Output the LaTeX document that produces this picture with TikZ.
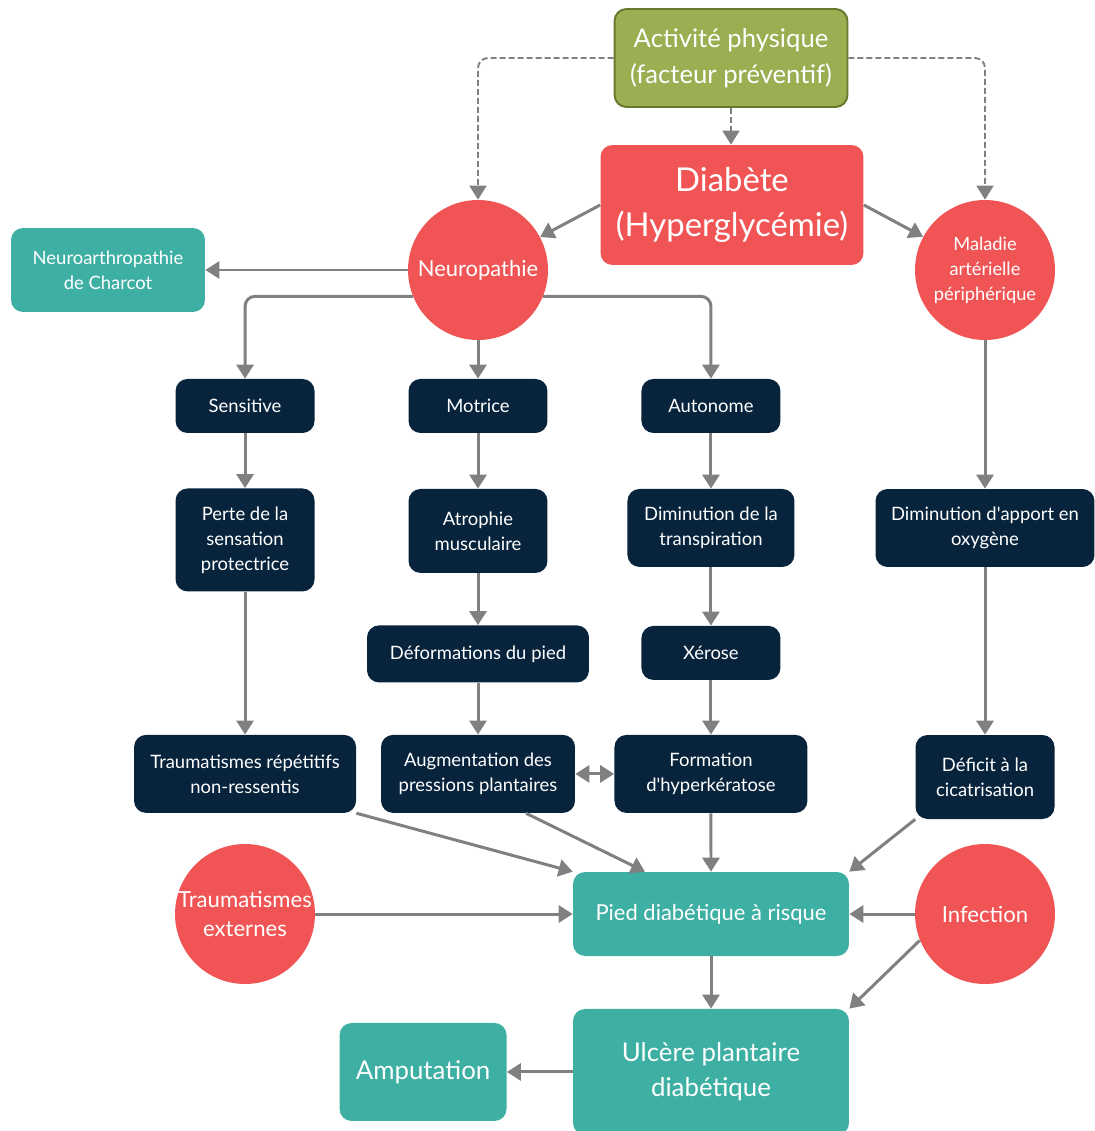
\documentclass[tikz,border=0pt]{standalone}
\usepackage{fontspec}
\setmainfont{Lato}
\usetikzlibrary{arrows.meta,positioning}

\definecolor{rouge}{HTML}{F05454}
\definecolor{vert}{HTML}{9BAE52}
\definecolor{vertfonce}{HTML}{66792C}
\definecolor{sarcelle}{HTML}{3DAFA3}
\definecolor{marine}{HTML}{07243C}
\definecolor{gris}{HTML}{808080}

\begin{document}
\begin{tikzpicture}[x=0.02cm, y=-0.02cm, node distance=2.5cm,
		every node/.style={text=white, align=center, inner sep=0pt},
		boite/.style={rounded corners=0.24cm, font=\fontsize{10.5}{14.2}\selectfont},
		sombre/.style={boite, fill=marine, minimum width=2.78cm, minimum height=1.08cm},
		turquoise/.style={boite, fill=sarcelle},
		rond/.style={circle, fill=rouge, minimum size=2.8cm},
		fleche/.style={draw=gris, line width=1.7pt, -{Triangle[width=0.34cm, length=0.28cm]}},
		pointille/.style={draw=gris, line width=1.1pt, dash pattern=on 0.12cm off 0.06cm, rounded corners=0.2cm, -{Triangle[width=0.34cm, length=0.28cm]}}]
		\useasboundingbox (0,0) rectangle (1094,1131);
		
		\node[boite, fill=vert, draw=vertfonce, line width=1.1pt, minimum width=4.66cm, minimum height=1.96cm, font=\fontsize{14.6}{20.4}\selectfont] (activite) at (731,58) {Activité physique\\(facteur préventif)};
		\node[boite, fill=rouge, minimum width=5.26cm, minimum height=2.4cm, font=\fontsize{18.7}{26}\selectfont] (diabete) at (732,205) {Diabète\\(Hyperglycémie)};
		\node[rond, font=\fontsize{12.5}{14}\selectfont] (neuro) at (478,270) {Neuropathie};
		\node[rond, font=\fontsize{10.4}{14.2}\selectfont] (maladie) at (985,270) {Maladie\\artérielle\\périphérique};
		\node[turquoise, minimum width=3.88cm, minimum height=1.68cm] (charcot) at (108,270) {Neuroarthropathie\\de Charcot};
		
		\node[sombre, below of=neuro, node distance=2.72cm] (motrice) {Motrice};
		\node[sombre, left of=motrice, node distance=4.66cm] (sensitive) {Sensitive};
		\node[sombre, right of=motrice, node distance=4.66cm] (autonome) {Autonome};
		\node[sombre, below of=sensitive, node distance=2.68cm, minimum height=2.06cm] (perte) {Perte de la\\sensation\\protectrice};
		\node[sombre, below of=motrice, node distance=2.5cm, minimum height=1.68cm] (atrophie) {Atrophie\\musculaire};
		\node[sombre, below of=autonome, node distance=2.44cm, minimum width=3.34cm, minimum height=1.56cm] (transpiration) {Diminution de la\\transpiration};
		\node[sombre, minimum width=4.38cm, minimum height=1.56cm] (oxygene) at (985,528) {Diminution d\textquotesingle apport en\\oxygène};
		\node[sombre, below of=atrophie, node distance=2.46cm, minimum width=4.44cm, minimum height=1.14cm] (deformations) {Déformations du pied};
		\node[sombre, below of=transpiration, node distance=2.5cm] (xerose) {Xérose};
		\node[sombre, below of=perte, node distance=4.68cm, minimum width=4.44cm, minimum height=1.56cm] (traumrep) {Traumatismes répétitifs\\non-ressentis};
		\node[sombre, below of=deformations, node distance=2.4cm, minimum width=3.88cm, minimum height=1.56cm] (pressions) {Augmentation des\\pressions plantaires};
		\node[sombre, below of=xerose, node distance=2.42cm, minimum width=3.86cm, minimum height=1.56cm] (keratose) {Formation\\d\textquotesingle hyperkératose};
		\node[sombre, minimum height=1.68cm] (cicatrisation) at (985,777) {Déficit à la\\cicatrisation};
		
		\node[rond, font=\fontsize{12.6}{17}\selectfont] (traumext) at (245,914) {\makebox[2cm]{Traumatismes}\\externes};
		\node[turquoise, minimum width=5.52cm, minimum height=1.68cm, font=\fontsize{12.5}{14}\selectfont] (pied) at (711,914) {Pied diabétique à risque};
		\node[rond, font=\fontsize{12.6}{14}\selectfont] (infection) at (985,914) {Infection};
		\node[turquoise, below of=pied, node distance=3.16cm, minimum width=5.52cm, minimum height=2.52cm, font=\fontsize{14.7}{20}\selectfont] (ulcere) {Ulcère plantaire\\diabétique};
		\node[turquoise, left of=ulcere, node distance=5.76cm, minimum width=3.34cm, minimum height=1.96cm, font=\fontsize{14.7}{20}\selectfont] (amputation) {Amputation};
		
		% prevention (dashed)
		\draw[pointille] (activite.west) -| (neuro.north);
		\draw[pointille] (activite.east) -| (maladie.north);
		\draw[pointille] (activite.south) -- (activite.south |- diabete.north);
		
		\draw[fleche] (diabete.west) -- (neuro);
		\draw[fleche] (diabete.east) -- (maladie);
		\draw[fleche] (neuro) -- (charcot);
		\draw[fleche, rounded corners=0.2cm] (neuro.202) -| (sensitive.north);
		\draw[fleche] (neuro) -- (motrice);
		\draw[fleche, rounded corners=0.2cm] (neuro.-22) -| (autonome.north);
		
		\draw[fleche] (sensitive) -- (perte);
		\draw[fleche] (perte) -- (traumrep);
		\draw[fleche] (motrice) -- (atrophie);
		\draw[fleche] (atrophie) -- (deformations);
		\draw[fleche] (deformations) -- (pressions);
		\draw[fleche] (autonome) -- (transpiration);
		\draw[fleche] (transpiration) -- (xerose);
		\draw[fleche] (xerose) -- (keratose);
		\draw[fleche] (maladie) -- (oxygene);
		\draw[fleche] (oxygene) -- (cicatrisation);
		\draw[fleche, {Triangle[width=0.34cm, length=0.28cm]}-{Triangle[width=0.34cm, length=0.28cm]}] (pressions) -- (keratose);
		
		\draw[fleche] (traumrep.south east) -- (pied.north west);
		\draw[fleche] ([xshift=0.96cm]pressions.south) -- ([xshift=-1.32cm]pied.north);
		\draw[fleche] (keratose) -- (pied);
		\draw[fleche] (cicatrisation.south west) -- (pied.north east);
		\draw[fleche] (traumext) -- (pied);
		\draw[fleche] (infection) -- (pied);
		\draw[fleche] (pied) -- (ulcere);
		\draw[fleche] (infection.202) -- (ulcere.north east);
		\draw[fleche] (ulcere) -- (amputation);
	\end{tikzpicture}
\end{document}
